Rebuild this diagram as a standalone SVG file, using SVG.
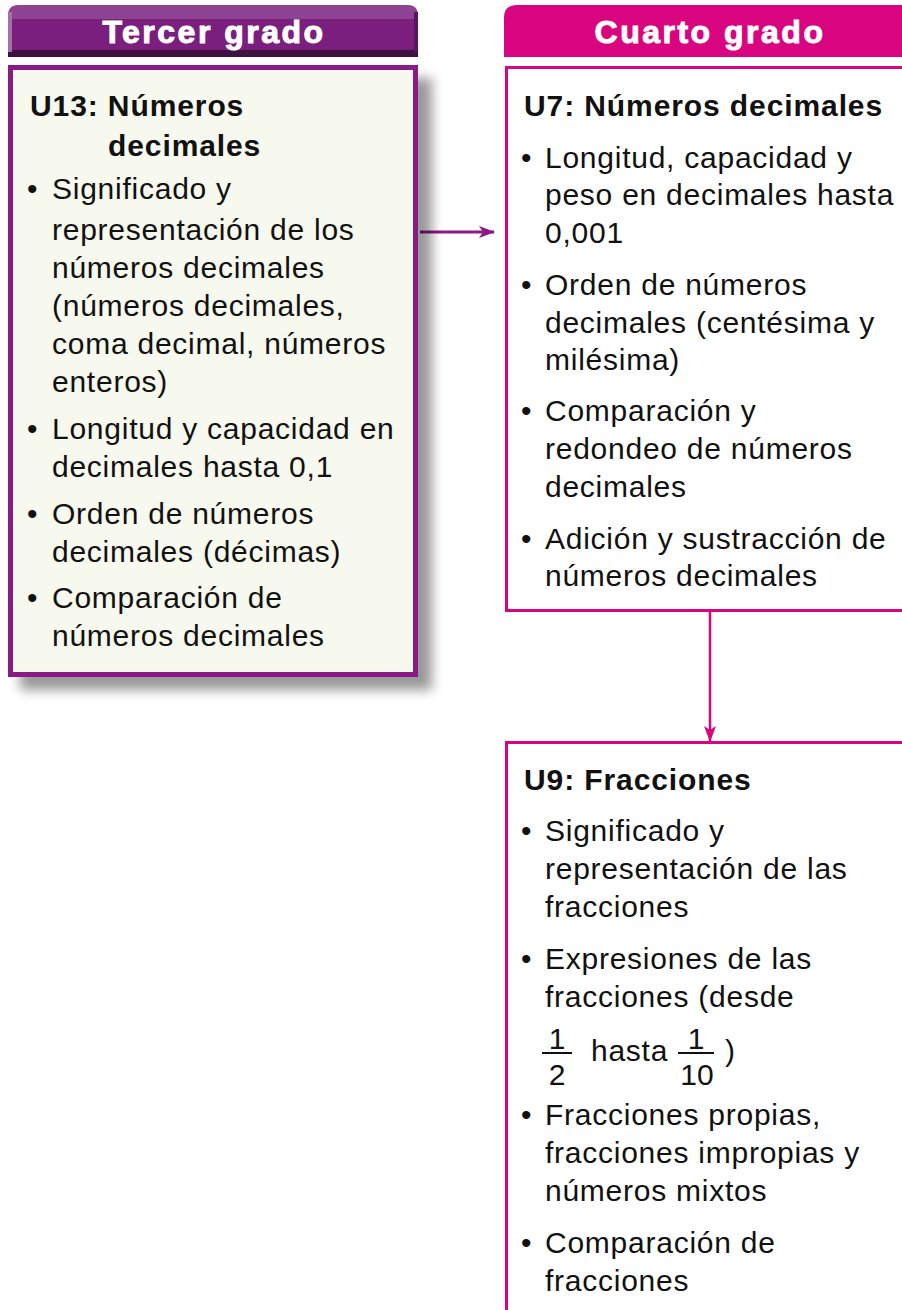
<svg xmlns="http://www.w3.org/2000/svg" width="902" height="1310" viewBox="0 0 902 1310">
<style>
.t{font-family:"Liberation Sans",Arial,sans-serif;font-size:30px;letter-spacing:0.75px;fill:#111}
.b{font-family:"Liberation Sans",Arial,sans-serif;font-size:30px;letter-spacing:0.9px;font-weight:bold;fill:#111}
.h{font-family:"Liberation Sans",Arial,sans-serif;font-size:32px;letter-spacing:2.5px;font-weight:bold;fill:#fff;text-anchor:middle;stroke:#fff;stroke-width:1}
.f{font-family:"Liberation Sans",Arial,sans-serif;font-size:30px;fill:#111;text-anchor:middle}
</style>
<defs>
<filter id="sh" x="-10%" y="-10%" width="130%" height="130%">
<feGaussianBlur stdDeviation="6"/>
</filter>
<marker id="ap" viewBox="0 0 16 12" refX="15" refY="6" markerWidth="16" markerHeight="12" markerUnits="userSpaceOnUse" orient="auto">
<path d="M0,0 L16,6 L0,12 L4,6 Z" fill="#8b1a82"/>
</marker>
<marker id="ak" viewBox="0 0 16 12" refX="15" refY="6" markerWidth="16" markerHeight="12" markerUnits="userSpaceOnUse" orient="auto">
<path d="M0,0 L16,6 L0,12 L4,6 Z" fill="#d9047f"/>
</marker>
</defs>
<rect width="902" height="1310" fill="#fff"/>

<g id="header-tercer">
<path d="M8,57 L8,16 Q8,5 19,5 L407,5 Q418,5 418,16 L418,57 Z" fill="#7a1f7d"/>
<path d="M8,16 Q8,5 19,5 L407,5 Q418,5 418,16 L418,19 L8,19 Z" fill="#9a5aa0" opacity="0.6"/>
<rect x="8" y="50" width="410" height="7" fill="#3f1040"/>
<rect x="8" y="12" width="4" height="40" fill="#a470a8"/>
<rect x="414" y="12" width="4" height="40" fill="#5a1560"/>
<text class="h" x="214" y="43">Tercer grado</text>
</g>

<g id="header-cuarto">
<path d="M504,57 L504,18 Q504,5 517,5 L902,5 L902,57 Z" fill="#d9047f"/>
<text class="h" x="710" y="43">Cuarto grado</text>
</g>

<g id="connectors">
<line x1="420" y1="232" x2="494" y2="232" stroke="#8b1a82" stroke-width="3" marker-end="url(#ap)"/>
<line x1="710" y1="612" x2="710" y2="741" stroke="#d9047f" stroke-width="2.5" marker-end="url(#ak)"/>
</g>

<g id="u13">
<rect x="20" y="78" width="412" height="612" fill="#000" opacity="0.4" filter="url(#sh)"/>
<rect x="10.5" y="67.5" width="405" height="607" fill="#f7f8ee" stroke="#8b1a82" stroke-width="5"/>
<text class="b" x="30" y="116">U13: Números</text>
<text class="b" x="108" y="156">decimales</text>
<text class="t" x="27" y="199">•</text>
<text class="t" x="52" y="199">Significado y</text>
<text class="t" x="52" y="240">representación de los</text>
<text class="t" x="52" y="278">números decimales</text>
<text class="t" x="52" y="316">(números decimales,</text>
<text class="t" x="52" y="354">coma decimal, números</text>
<text class="t" x="52" y="392">enteros)</text>
<text class="t" x="27" y="439">•</text>
<text class="t" x="52" y="439">Longitud y capacidad en</text>
<text class="t" x="52" y="477">decimales hasta 0,1</text>
<text class="t" x="27" y="524">•</text>
<text class="t" x="52" y="524">Orden de números</text>
<text class="t" x="52" y="562">decimales (décimas)</text>
<text class="t" x="27" y="608">•</text>
<text class="t" x="52" y="608">Comparación de</text>
<text class="t" x="52" y="646">números decimales</text>
</g>

<g id="u7">
<path d="M902,67.5 L506.5,67.5 L506.5,610.5 L902,610.5" fill="#fff" stroke="#d9047f" stroke-width="3"/>
<text class="b" x="524" y="116">U7: Números decimales</text>
<text class="t" x="521" y="168">•</text>
<text class="t" x="545" y="168">Longitud, capacidad y</text>
<text class="t" x="545" y="205">peso en decimales hasta</text>
<text class="t" x="545" y="243">0,001</text>
<text class="t" x="521" y="295">•</text>
<text class="t" x="545" y="295">Orden de números</text>
<text class="t" x="545" y="333">decimales (centésima y</text>
<text class="t" x="545" y="370">milésima)</text>
<text class="t" x="521" y="421">•</text>
<text class="t" x="545" y="421">Comparación y</text>
<text class="t" x="545" y="459">redondeo de números</text>
<text class="t" x="545" y="497">decimales</text>
<text class="t" x="521" y="549">•</text>
<text class="t" x="545" y="549">Adición y sustracción de</text>
<text class="t" x="545" y="586">números decimales</text>
</g>

<g id="u9">
<path d="M902,742.5 L506.5,742.5 L506.5,1310" fill="#fff" stroke="#d9047f" stroke-width="3"/>
<text class="b" x="524" y="790">U9: Fracciones</text>
<text class="t" x="521" y="841">•</text>
<text class="t" x="545" y="841">Significado y</text>
<text class="t" x="545" y="879">representación de las</text>
<text class="t" x="545" y="917">fracciones</text>
<text class="t" x="521" y="969">•</text>
<text class="t" x="545" y="969">Expresiones de las</text>
<text class="t" x="545" y="1007">fracciones (desde</text>
<text class="f" x="557" y="1049">1</text>
<line x1="542" y1="1053" x2="572" y2="1053" stroke="#111" stroke-width="2"/>
<text class="f" x="557" y="1085">2</text>
<text class="t" x="591" y="1061">hasta</text>
<text class="f" x="696" y="1049">1</text>
<line x1="678" y1="1053" x2="714" y2="1053" stroke="#111" stroke-width="2"/>
<text class="f" x="697" y="1085">10</text>
<text class="t" x="725" y="1061">)</text>
<text class="t" x="521" y="1125">•</text>
<text class="t" x="545" y="1125">Fracciones propias,</text>
<text class="t" x="545" y="1163">fracciones impropias y</text>
<text class="t" x="545" y="1201">números mixtos</text>
<text class="t" x="521" y="1253">•</text>
<text class="t" x="545" y="1253">Comparación de</text>
<text class="t" x="545" y="1291">fracciones</text>
</g>
</svg>
